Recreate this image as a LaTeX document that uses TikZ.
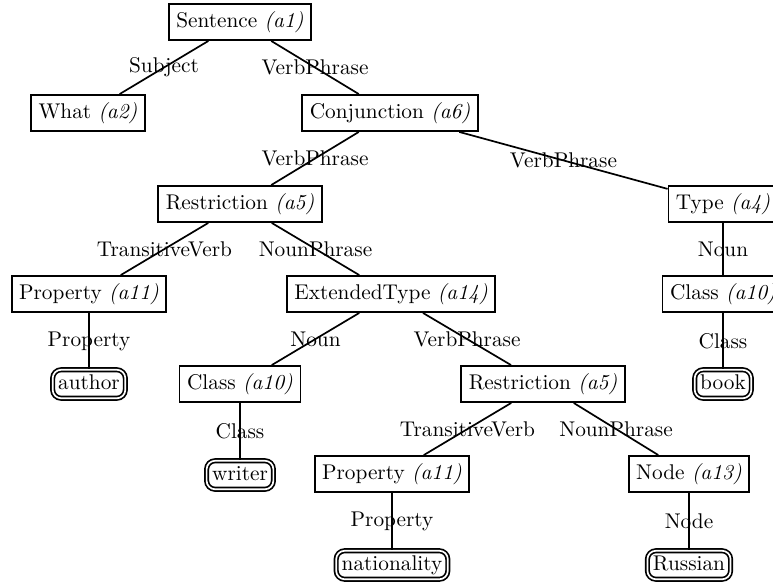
\documentclass[tikz,border=0pt]{standalone}
\usepackage{tikz}
\usetikzlibrary{arrows.meta,calc,positioning}

\tikzset{
  cat/.style={draw, thick, rectangle, inner sep=3.5pt},
  word/.style={draw, thick, double, double distance=0.8pt, rounded corners=4pt,
    text height=7.2pt, text depth=2.2pt, inner xsep=2.6pt, inner ysep=2pt},
  rel/.style={thick}
}

\begin{document}
\begin{tikzpicture}[x=0.01651cm, y=-0.01651cm]
  % Frame
  \useasboundingbox (0,0) rectangle (773,586);
  \clip (0,0) rectangle (773,586);

  % Categories
  \node[cat] (sent)   at (240,22)  {Sentence \textit{(a1)}};
  \node[cat] (what)   at (88,113)  {What \textit{(a2)}};
  \node[cat] (conj)   at (390,113) {Conjunction \textit{(a6)}};
  \node[cat] (restr)  at (240,204) {Restriction \textit{(a5)}};
  \node[cat] (type)   at (723,204) {Type \textit{(a4)}};
  \node[cat] (prop)   at (89,294)  {Property \textit{(a11)}};
  \node[cat] (ext)    at (391,294) {ExtendedType \textit{(a14)}};
  \node[cat] (clsb)   at (723,294) {Class \textit{(a10)}};
  \node[cat] (clsw)   at (240,384) {Class \textit{(a10)}};
  \node[cat] (restrb) at (543,384) {Restriction \textit{(a5)}};
  \node[cat] (propb)  at (392,474) {Property \textit{(a11)}};
  \node[cat] (nd)     at (689,474) {Node \textit{(a13)}};

  % Words
  \node[word] (author) at (89,384)  {author};
  \node[word] (book)   at (723,384) {book};
  \node[word] (writer) at (240,475) {writer};
  \node[word] (nat)    at (392,565) {nationality};
  \node[word] (russ)   at (689,565) {Russian};

  % Relations
  \foreach \a/\b/\l in {sent/what/Subject, sent/conj/VerbPhrase,
      conj/restr/VerbPhrase, conj/type/VerbPhrase,
      restr/prop/TransitiveVerb, restr/ext/NounPhrase,
      type/clsb/Noun, clsb/book/Class, prop/author/Property,
      ext/clsw/Noun, ext/restrb/VerbPhrase, clsw/writer/Class,
      restrb/propb/TransitiveVerb, restrb/nd/NounPhrase,
      propb/nat/Property, nd/russ/Node} {
    \draw[rel] (\a) -- node {\l} (\b);
  }
\end{tikzpicture}
\end{document}
